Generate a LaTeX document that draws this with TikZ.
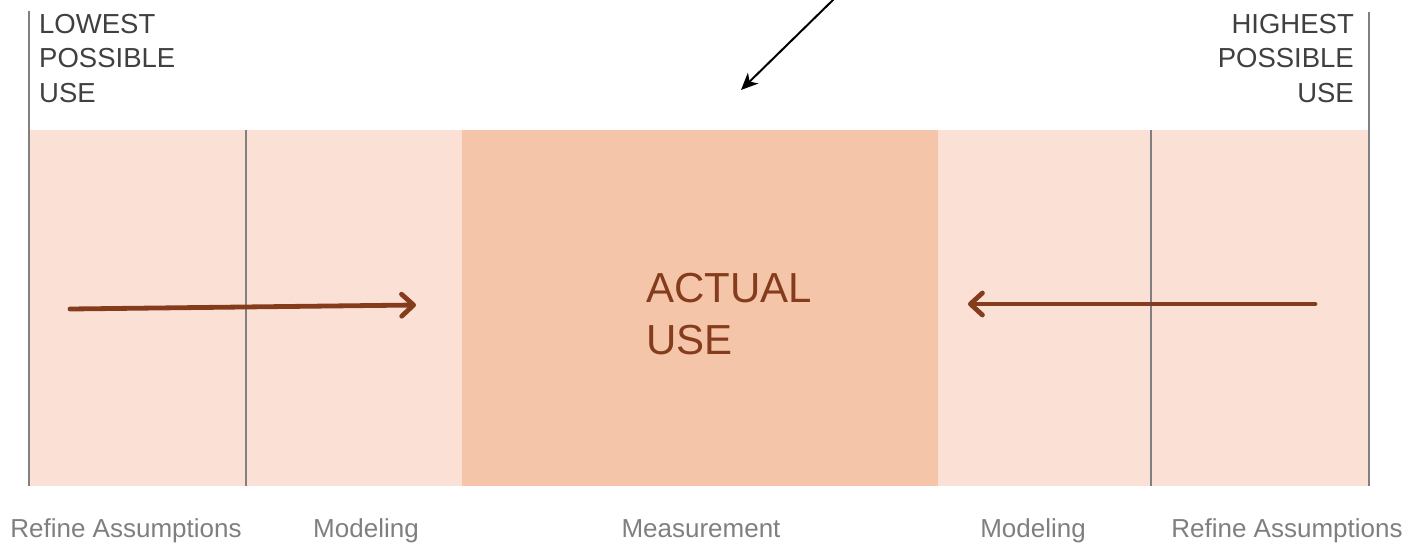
\documentclass[tikz,border=0pt]{standalone}
\usepackage{fontspec}
\setmainfont{Liberation Sans}
\usetikzlibrary{arrows.meta}
\definecolor{bandlight}{HTML}{FBE1D5}
\definecolor{banddark}{HTML}{F5C5AA}
\definecolor{rust}{HTML}{843C1C}
\definecolor{rulegray}{HTML}{808080}
\definecolor{toptext}{HTML}{404040}
\definecolor{bottext}{HTML}{7F7F7F}
\tikzset{
  divider/.style={draw=rulegray, line width=2pt},
  toplabel/.style={inner sep=0pt, text=toptext, font=\fontsize{27.5}{34.5}\selectfont},
  botlabel/.style={inner sep=0pt, anchor=base, text=bottext, font=\fontsize{26}{30}\selectfont},
  flowarrow/.style={draw=rust, line width=4.8pt, line cap=round,
    -{Straight Barb[length=12pt, width=22pt, line width=4.8pt, line cap=round, line join=round]}},
  pointer/.style={draw=black, line width=2pt, -{Stealth[length=17pt, width=15pt, inset=5pt]}}
}
\begin{document}
\begin{tikzpicture}[x=1pt, y=-1pt]
\useasboundingbox (0,0) rectangle (1410,544);
% bands
\fill[bandlight] (30,130) rectangle (1370,486);
\fill[banddark] (462,130) rectangle (938,486);
% rules
\draw[divider] (29,11) -- (29,486);
\draw[divider] (1369,12) -- (1369,486);
\draw[divider] (246,130) -- (246,486);
\draw[divider] (1151,130) -- (1151,486);
% top labels
\node[toplabel, anchor=north west, align=left] (low) at (39,14) {LOWEST\\POSSIBLE\\USE};
\node[toplabel, anchor=north east, align=right] (high) at (1354,14) {HIGHEST\\POSSIBLE\\USE};
% actual use
\node[inner sep=0pt, anchor=north west, align=left, text=rust,
  font=\fontsize{42}{51.5}\selectfont] (actual) at (646,273) {ACTUAL\\USE};
% bottom labels
\node[botlabel] (ra1) at (126,537) {Refine Assumptions};
\node[botlabel] (mo1) at (366,537) {Modeling};
\node[botlabel] (me) at (701,537) {Measurement};
\node[botlabel] (mo2) at (1033,537) {Modeling};
\node[botlabel] (ra2) at (1287,537) {Refine Assumptions};
% arrows
\coordinate (la) at (70,309);
\coordinate (lb) at (416,305);
\coordinate (ra) at (1315,304);
\coordinate (rb) at (968,304);
\draw[flowarrow] (la) -- (lb);
\draw[flowarrow] (ra) -- (rb);
\coordinate (pa) at (834,-1);
\coordinate (pb) at (741,90);
\draw[pointer] (pa) -- (pb);
\end{tikzpicture}
\end{document}
